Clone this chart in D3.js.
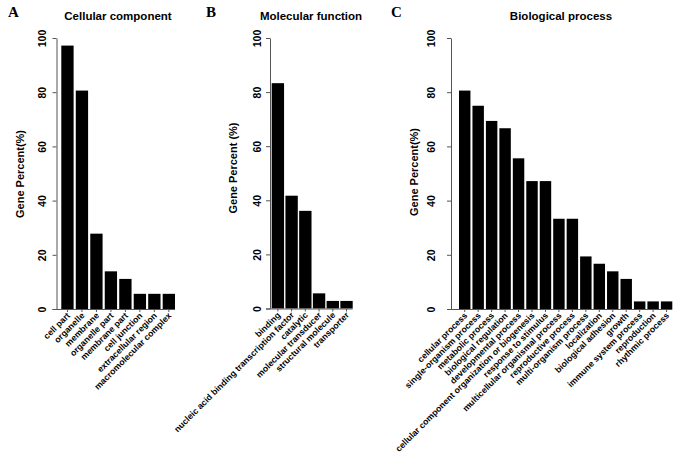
<!DOCTYPE html>
<html>
<head>
<meta charset="utf-8">
<script src="https://cdn.jsdelivr.net/npm/d3@7"></script>
<style>
  html, body { margin: 0; padding: 0; background: #fff; }
  svg { display: block; }
  text { font-family: "Liberation Sans", Arial, sans-serif; font-weight: bold; fill: #000; }
</style>
</head>
<body>
<script>
// ---- Data ----
const ccCategories = ["cell part", "organelle", "membrane", "organelle part", "membrane part",
  "cell junction", "extracellular region", "macromolecular complex"];
const ccValues = [97.2, 80.6, 27.8, 13.9, 11.1, 5.6, 5.6, 5.6];

const mfCategories = ["binding", "nucleic acid binding transcription factor", "catalytic",
  "molecular transducer", "structural molecule", "transporter"];
const mfValues = [83.3, 41.7, 36.1, 5.6, 2.8, 2.8];

const bpCategories = ["cellular process", "single-organism process", "metabolic process",
  "biological regulation", "developmental process",
  "cellular component organization or biogenesis", "response to stimulus",
  "multicellular organismal process", "reproductive process", "multi-organism process",
  "localization", "biological adhesion", "growth", "immune system process",
  "reproduction", "rhythmic process"];
const bpValues = [80.6, 75.0, 69.4, 66.7, 55.6, 47.2, 47.2, 33.3, 33.3, 19.4, 16.7, 13.9, 11.1, 2.8, 2.8, 2.8];

const yTicks = [0, 20, 40, 60, 80, 100];

const titles = ["Cellular component", "Molecular function", "Biological process"];
const yLabels = ["Gene Percent(%)", "Gene Percent (%)", "Gene Percent(%)"];
const panelLetters = ["A", "B", "C"];

// ---- Drawing ----
const svg = d3.select("body").append("svg").attr("width", 675).attr("height", 455);

function drawPanel(p) {
  const g = svg.append("g");
  const y = d3.scaleLinear().domain([0, 100]).range([p.y0, p.y100]);
  const x = d3.scaleBand().domain(p.categories).range([p.xStart, p.xEnd])
    .paddingInner(p.padInner).paddingOuter(0);

  // bars
  g.selectAll("rect.bar").data(p.values).join("rect")
    .attr("x", (d, i) => x(p.categories[i]))
    .attr("y", d => y(d))
    .attr("width", x.bandwidth())
    .attr("height", d => y(0) - y(d))
    .attr("fill", "#000");

  // y axis
  const axis = d3.axisLeft(y).tickValues(yTicks).tickSize(4).tickSizeOuter(0).tickFormat(d3.format("d"));
  const ag = g.append("g").attr("transform", `translate(${p.axisX},0)`).call(axis);
  ag.select(".domain").attr("stroke", "#555").attr("stroke-width", 1);
  ag.selectAll(".tick line").attr("stroke", "#555");
  ag.selectAll(".tick text")
    .attr("x", null).attr("dy", null)
    .attr("transform", `translate(${-p.tickOffset},0) rotate(-90)`)
    .attr("text-anchor", "middle")
    .attr("dy", "0.35em")
    .style("font-size", "10.5px")
    .style("font-family", "'Liberation Sans', Arial, sans-serif")
    .style("font-weight", "bold");

  // baseline
  g.append("line")
    .attr("x1", p.axisX - 4).attr("x2", p.xEnd)
    .attr("y1", y(0) + 0.5).attr("y2", y(0) + 0.5)
    .attr("stroke", "#555");

  // category ticks and labels
  p.categories.forEach(c => {
    const cx = x(c) + x.bandwidth() / 2;
    g.append("line").attr("x1", cx).attr("x2", cx)
      .attr("y1", y(0)).attr("y2", y(0) + 3).attr("stroke", "#555");
    g.append("text")
      .attr("transform", `translate(${cx + 1},${y(0) + 5}) rotate(-45)`)
      .attr("text-anchor", "end")
      .attr("dy", "0.35em")
      .style("font-size", "8.7px")
      .text(c);
  });

  // title
  g.append("text").attr("x", p.titleX).attr("y", 20)
    .attr("text-anchor", "middle").style("font-size", "11.5px").text(p.title);

  // y label
  g.append("text")
    .attr("transform", `translate(${p.ylabX},${p.ylabY}) rotate(-90)`)
    .attr("text-anchor", "middle").attr("dy", "0.35em")
    .style("font-size", "11px").text(p.ylabel);

  // panel letter
  g.append("text").attr("x", p.letterX).attr("y", 17)
    .style("font-family", "'Liberation Serif', 'Times New Roman', serif")
    .style("font-size", "15px").text(p.letter);
}

drawPanel({
  categories: ccCategories, values: ccValues,
  y0: 309, y100: 38, xStart: 61.3, xEnd: 175, padInner: 0.15,
  axisX: 56.5, tickOffset: 14, titleX: 118, ylabX: 20, ylabY: 174,
  title: titles[0], ylabel: yLabels[0], letter: panelLetters[0], letterX: 8
});
drawPanel({
  categories: mfCategories, values: mfValues,
  y0: 308.5, y100: 38, xStart: 271.7, xEnd: 352.7, padInner: 0.1,
  axisX: 270, tickOffset: 13, titleX: 311, ylabX: 233, ylabY: 168,
  title: titles[1], ylabel: yLabels[1], letter: panelLetters[1], letterX: 206
});
drawPanel({
  categories: bpCategories, values: bpValues,
  y0: 309, y100: 38, xStart: 459, xEnd: 672.3, padInner: 0.15,
  axisX: 451, tickOffset: 20, titleX: 561, ylabX: 414, ylabY: 172,
  title: titles[2], ylabel: yLabels[2], letter: panelLetters[2], letterX: 391
});
</script>
</body>
</html>
